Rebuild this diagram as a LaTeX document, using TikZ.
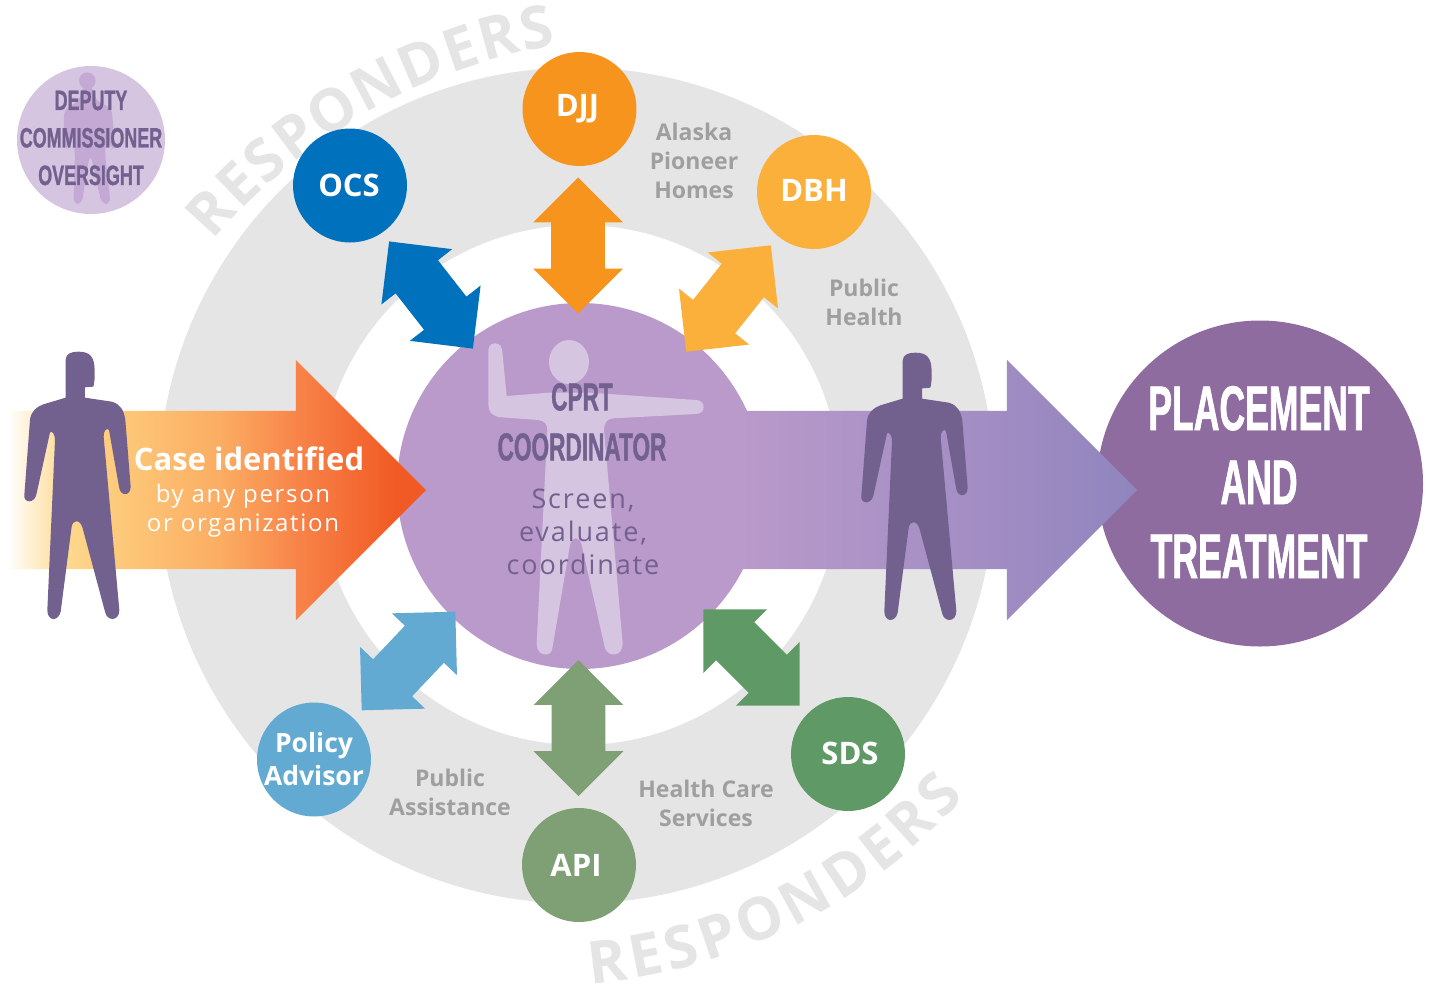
\documentclass[tikz,border=0pt]{standalone}
\usepackage{fontspec}
\setmainfont{Open Sans}
\newfontfamily\tallfont[FakeStretch=0.58,FakeBold=1]{Liberation Sans Bold}
\newfontfamily\placefont[FakeStretch=0.565,FakeBold=1]{Liberation Sans Bold}
\newfontfamily\deputyfont[FakeStretch=0.64,FakeBold=1]{Liberation Sans Bold}
\newfontfamily\widefont[LetterSpace=7]{Open Sans}
\usetikzlibrary{shapes.arrows,decorations.text}
\definecolor{ringgray}{HTML}{E5E5E5}
\definecolor{labelgray}{HTML}{9F9F9F}
\definecolor{coordpurple}{HTML}{B99ACA}
\definecolor{lightpurple}{HTML}{D6C5E1}
\definecolor{midpurple}{HTML}{C4A9D4}
\definecolor{manpurple}{HTML}{72618F}
\definecolor{placepurple}{HTML}{8F6CA0}
\definecolor{ocsblue}{HTML}{0071BC}
\definecolor{djjorange}{HTML}{F7941E}
\definecolor{dbhorange}{HTML}{FBB03B}
\definecolor{sdsgreen}{HTML}{5F9966}
\definecolor{apigreen}{HTML}{7F9F74}
\definecolor{policyblue}{HTML}{62AAD2}
\definecolor{caseA}{HTML}{FFFFFF}
\definecolor{caseB}{HTML}{FED88D}
\definecolor{caseC}{HTML}{FDC677}
\definecolor{caseD}{HTML}{FBAD62}
\definecolor{caseE}{HTML}{F8854A}
\definecolor{caseF}{HTML}{F15A24}
\definecolor{placeB}{HTML}{A08CC3}
\definecolor{placeC}{HTML}{8F85BD}
\pgfdeclarehorizontalshading{caseshade}{100bp}{color(0bp)=(caseA); color(25bp)=(caseA);
  color(32bp)=(caseB); color(39.6bp)=(caseC); color(50.4bp)=(caseD); color(59.3bp)=(caseE);
  color(71.3bp)=(caseF); color(100bp)=(caseF)}
\pgfdeclarehorizontalshading{placeshade}{100bp}{color(0bp)=(coordpurple); color(25bp)=(coordpurple);
  color(58.5bp)=(placeB); color(75bp)=(placeC); color(100bp)=(placeC)}
\tikzset{
  man/.pic={
    \fill[manpurple,scale=1/3] (197,60) .. controls (197,40) and (215,35) .. (235,35)
      .. controls (270,35) and (283,50) .. (284,90) .. controls (285,110) and (283,130) .. (280,140)
      -- (255,142) -- (255,173) -- (335,185) .. controls (360,192) and (372,210) .. (376,240)
      -- (392,440) .. controls (392,470) and (360,470) .. (357,440) -- (327,270)
      .. controls (322,262) and (310,270) .. (311,290) -- (358,810)
      .. controls (358,845) and (320,845) .. (315,815) -- (248,565)
      .. controls (240,535) and (218,540) .. (215,560) -- (182,815)
      .. controls (175,845) and (142,845) .. (142,810) -- (165,300)
      .. controls (165,285) and (158,272) .. (150,277) -- (110,460)
      .. controls (105,492) and (70,490) .. (73,465) -- (90,240)
      .. controls (92,215) and (110,200) .. (130,193) -- (197,173) -- cycle;
  }
}
\begin{document}
\begin{tikzpicture}[x=1pt,y=-1pt]
  \tikzstyle{agency}=[circle,minimum size=114pt,inner sep=0pt,text=white,align=center,font=\fontsize{31}{33}\selectfont\bfseries]
  \tikzstyle{dblarrow}=[double arrow,minimum height=136pt,minimum width=89pt,inner xsep=0pt,inner ysep=26.7pt,outer sep=0pt,double arrow head extend=18pt,double arrow tip angle=90]
  \tikzstyle{bigarrow}=[single arrow,anchor=tip,minimum width=260pt,inner xsep=0pt,inner ysep=79pt,outer sep=0pt,single arrow head extend=51pt,single arrow tip angle=90]
  \tikzstyle{graylabel}=[text=labelgray,align=center,font=\fontsize{23}{29}\selectfont\bfseries]
  \tikzstyle{tall}=[align=center,inner sep=0pt]
  \tikzstyle{ringtext}=[decorate,decoration={text along path,text align={fit to path},text color=ringgray,
      text={|\fontsize{59}{60}\selectfont\bfseries|RESPONDERS}}]
  \useasboundingbox (0,0) rectangle (1429,985);

  \node [circle,fill=ringgray,minimum size=836pt,inner sep=0pt] (ring) at (576.5,485.5) {};
  \node [circle,fill=white,minimum size=520pt,inner sep=0pt] (hole) at (580,485) {};
  \node [circle,fill=coordpurple,minimum size=366pt,inner sep=0pt] (coord) at (580,486) {};
  \node [circle,fill=placepurple,minimum size=326pt,inner sep=0pt] (place) at (1260,483.5) {};
  \node [circle,fill=lightpurple,minimum size=148pt,inner sep=0pt] (deputy) at (91,140) {};

  % curved ring captions
  \path[ringtext] (213,241) arc[start angle=-139.65,end angle=-99.8,radius=579.2];
  \path[ringtext] (590,984) arc[start angle=84.9,end angle=42.1,radius=573.2];

  % figures behind the text
  \fill[lightpurple,shift={(470,320)},scale=1/3] (75,70) .. controls (60,70) and (55,80) .. (55,95)
     -- (55,250) .. controls (55,280) and (70,290) .. (95,292) -- (205,300)
     .. controls (225,302) and (232,315) .. (232,330) -- (200,970)
     .. controls (200,1012) and (245,1012) .. (247,985) -- (300,675)
     .. controls (305,648) and (330,648) .. (335,675) -- (405,985)
     .. controls (415,1012) and (458,1012) .. (458,970) -- (402,330)
     .. controls (402,310) and (410,296) .. (430,295) -- (680,282)
     .. controls (708,280) and (708,242) .. (680,240) -- (360,218) -- (235,218) -- (110,228)
     -- (97,95) .. controls (95,80) and (90,70) .. (75,70) -- cycle;
  \fill[lightpurple] (569,362) ellipse [x radius=20,y radius=22];
  \fill[midpurple] (87.3,80.7) circle (8.3);
  \fill[midpurple,shift={(0,50)},scale=1/3,rounded corners=6pt] (245,110) -- (280,110) -- (285,150) -- (335,175)
     -- (345,290) -- (333,300) -- (322,235) -- (315,310) -- (332,462) -- (305,462) -- (272,315) -- (268,320)
     -- (245,462) -- (220,462) -- (225,310) -- (215,235) -- (205,300) -- (192,290) -- (192,180) -- (240,150) -- cycle;

  % big arrows
  \node [bigarrow,minimum height=397pt,shading=placeshade] (placearrow) at (1137,490) {};
  \node [bigarrow,minimum height=418pt,shading=caseshade] (casearrow) at (426,490) {};

  % agencies
  \node [dblarrow,fill=ocsblue,rotate=-52] (ocsarrow) at (431,295) {};
  \node [dblarrow,fill=djjorange,rotate=90] (djjarrow) at (578,245.5) {};
  \node [dblarrow,fill=dbhorange,rotate=51.5] (dbharrow) at (728.5,298.5) {};
  \node [dblarrow,fill=sdsgreen,rotate=-45] (sdsarrow) at (751.5,657.5) {};
  \node [dblarrow,fill=apigreen,rotate=90] (apiarrow) at (578.5,728) {};
  \node [dblarrow,fill=policyblue,rotate=46.5] (policyarrow) at (408.5,661) {};
  \node [agency,fill=ocsblue] (ocs) at (350,185.5) {OCS\hspace{2pt}};
  \node [agency,fill=djjorange] (djj) at (579.5,109) {DJJ\hspace{4pt}};
  \node [agency,fill=dbhorange] (dbh) at (814,192) {\raisebox{4pt}{DBH}};
  \node [agency,fill=sdsgreen] (sds) at (848,754) {\hspace{4pt}\raisebox{2pt}{SDS}};
  \node [agency,fill=apigreen] (api) at (579,865) {API\hspace{6pt}};
  \node [agency,fill=policyblue,inner sep=-12pt,font=\fontsize{26.5}{33}\selectfont\bfseries] (policy) at (314,759.5) {Policy\\Advisor};

  \node [graylabel] (pioneer) at (694,161) {Alaska\\Pioneer\\Homes};
  \node [graylabel] (health) at (864,302.5) {Public\\Health};
  \node [graylabel] (assist) at (450,792.5) {Public\\Assistance};
  \node [graylabel] (care) at (706,803.5) {Health Care\\Services};

  \pic at (0,340) {man};
  \pic at (837,341) {man};

  \node [tall,text=white,font=\fontsize{31}{34}\selectfont\bfseries] (case) at (249,459) {Case identified};
  \node [tall,text=white,font=\fontsize{24}{29}\widefont] (anyone) at (243,511) {by any person\\or organization};

  \node [tall,text=manpurple,font=\fontsize{39}{50}\tallfont] (cprt) at (582,422) {CPRT\\COORDINATOR};
  \node [tall,text=manpurple,font=\fontsize{27}{33}\widefont] (screen) at (583,532) {Screen,\\evaluate,\\coordinate};
  \node [tall,text=white,font=\fontsize{63}{74}\placefont] (placetext) at (1259,482) {PLACEMENT\\AND\\TREATMENT};
  \node [tall,text=manpurple,font=\fontsize{28}{37.5}\deputyfont] (deputytext) at (91,138) {DEPUTY\\COMMISSIONER\\OVERSIGHT};
\end{tikzpicture}
\end{document}
